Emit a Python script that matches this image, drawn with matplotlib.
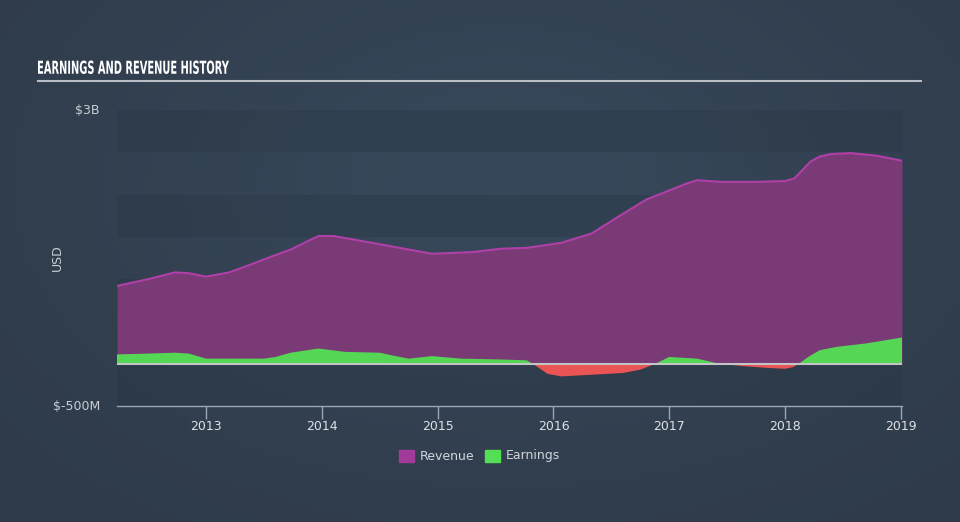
import numpy as np
import matplotlib.pyplot as plt
from matplotlib.colors import LinearSegmentedColormap
from matplotlib.patches import Rectangle, PathPatch
from matplotlib.textpath import TextPath
from matplotlib.font_manager import FontProperties
from matplotlib.transforms import Affine2D

# values (USD billions)
rev_x = [2012.23, 2012.5, 2012.73, 2012.85, 2013.0, 2013.2, 2013.38, 2013.55, 2013.73, 2013.85,
         2013.97, 2014.1, 2014.47, 2014.75, 2014.95, 2015.3, 2015.55, 2015.77, 2016.07,
         2016.33, 2016.55, 2016.8, 2017.02, 2017.15, 2017.24, 2017.45, 2017.75, 2018.0,
         2018.08, 2018.15, 2018.22, 2018.3, 2018.4, 2018.57, 2018.79, 2019.01]
revenue = [0.92, 1.0, 1.08, 1.07, 1.03, 1.08, 1.17, 1.26, 1.35, 1.43,
           1.51, 1.51, 1.42, 1.35, 1.30, 1.32, 1.36, 1.37, 1.43,
           1.54, 1.73, 1.94, 2.06, 2.13, 2.17, 2.15, 2.15, 2.16,
           2.19, 2.29, 2.39, 2.45, 2.48, 2.49, 2.46, 2.40]

earn_x = [2012.23, 2012.5, 2012.73, 2012.85, 2013.0, 2013.2, 2013.5, 2013.6, 2013.73, 2013.97,
          2014.2, 2014.5, 2014.6, 2014.75, 2014.95, 2015.2, 2015.55, 2015.77, 2015.82,
          2015.95, 2016.07, 2016.33, 2016.6, 2016.75, 2016.88, 2017.0, 2017.24, 2017.43,
          2017.65, 2017.85, 2018.0, 2018.07, 2018.12, 2018.2, 2018.3, 2018.45, 2018.7, 2019.01]
earnings = [0.11, 0.12, 0.13, 0.12, 0.06, 0.06, 0.06, 0.08, 0.13, 0.18,
            0.14, 0.13, 0.10, 0.06, 0.09, 0.06, 0.05, 0.04, 0.0,
            -0.12, -0.15, -0.13, -0.11, -0.07, 0.0, 0.08, 0.06, 0.0,
            -0.03, -0.05, -0.06, -0.04, 0.0, 0.08, 0.16, 0.20, 0.24, 0.31]

years = [2013, 2014, 2015, 2016, 2017, 2018, 2019]
title = 'EARNINGS AND REVENUE HISTORY'

bg = '#344353'
fig = plt.figure(figsize=(9.6, 5.22), dpi=100, facecolor=bg)

# soft background gradient
bga = fig.add_axes([0, 0, 1, 1], zorder=-10)
gx = np.linspace(-1, 1, 200)
gy = np.linspace(-1, 1, 120)
X, Y = np.meshgrid(gx, gy)
G = np.exp(-((X - 0.05) ** 2 / 0.9 + (Y + 0.3) ** 2 / 1.2))
bga.imshow(G, cmap=LinearSegmentedColormap.from_list('g', ['#2f3b4a', '#374759']),
           aspect='auto', extent=[0, 1, 0, 1])
bga.axis('off')

ax = fig.add_axes([117 / 960, 116 / 522, 785 / 960, 296 / 522])
ax.set_facecolor('none')
ax.set_xlim(2012.23, 2019.01)
ax.set_ylim(-0.5, 3.0)

for lo in [2.5, 1.5, 0.5, -0.5]:
    ax.axhspan(lo, lo + 0.5, color='#1e2a36', alpha=0.18, lw=0, zorder=0)

ax.fill_between(rev_x, 0, revenue, color='#7a3a76', lw=0, zorder=2)
ax.plot(rev_x, revenue, color='#b040a8', lw=1.5, zorder=3)

e = np.array(earnings)
ax.fill_between(earn_x, 0, e, where=e >= 0, interpolate=True, color='#55d655', lw=0, zorder=4)
ax.fill_between(earn_x, 0, e, where=e <= 0, interpolate=True, color='#ea5454', lw=0, zorder=4)
ax.axhline(0, color='#c4c4c4', lw=1.5, zorder=5)

for s in ['top', 'right', 'left']:
    ax.spines[s].set_visible(False)
ax.spines['bottom'].set_color('#9aa6b2')
ax.spines['bottom'].set_linewidth(1)
ax.set_xticks(years)
ax.set_xticklabels([str(y) for y in years])
ax.tick_params(axis='x', colors='#9aa6b2', labelcolor='#dde2e6', length=9, width=1,
               labelsize=9, pad=1)
ax.set_yticks([])

fig.text(100 / 960, 1 - 110 / 522, '$3B', color='#c8ced4', fontsize=9, ha='right', va='center')
fig.text(100 / 960, 1 - 406 / 522, '$-500M', color='#c8ced4', fontsize=9, ha='right', va='center')
fig.text(57 / 960, 1 - 258 / 522, 'USD', color='#c8ced4', fontsize=9, rotation=90,
         ha='center', va='center')

# condensed title: squeeze a bold text path horizontally
tp = TextPath((0, 0), title, size=18, prop=FontProperties(family='DejaVu Sans', weight='bold'))
ext = tp.get_extents()
sx = 191 / ext.width
sy = 13.5 / ext.height
tr = Affine2D().translate(-ext.x0, -ext.y0).scale(sx, sy).translate(38, 522 - 74)
fig.add_artist(PathPatch(tp, transform=tr, color='white', lw=0))
fig.add_artist(plt.Line2D([38 / 960, 921 / 960], [1 - 81 / 522, 1 - 81 / 522],
                          color='#b8bec4', lw=1.5))

# legend
fig.add_artist(Rectangle((399 / 960, 1 - 462 / 522), 15 / 960, 12 / 522, color='#a23a9a'))
fig.text(420 / 960, 1 - 456 / 522, 'Revenue', color='#d0d6dc', fontsize=9, va='center')
fig.add_artist(Rectangle((485 / 960, 1 - 462 / 522), 15 / 960, 12 / 522, color='#54e054'))
fig.text(506 / 960, 1 - 456 / 522, 'Earnings', color='#d0d6dc', fontsize=9, va='center')

fig.savefig('out.png', dpi=100, facecolor=bg)
